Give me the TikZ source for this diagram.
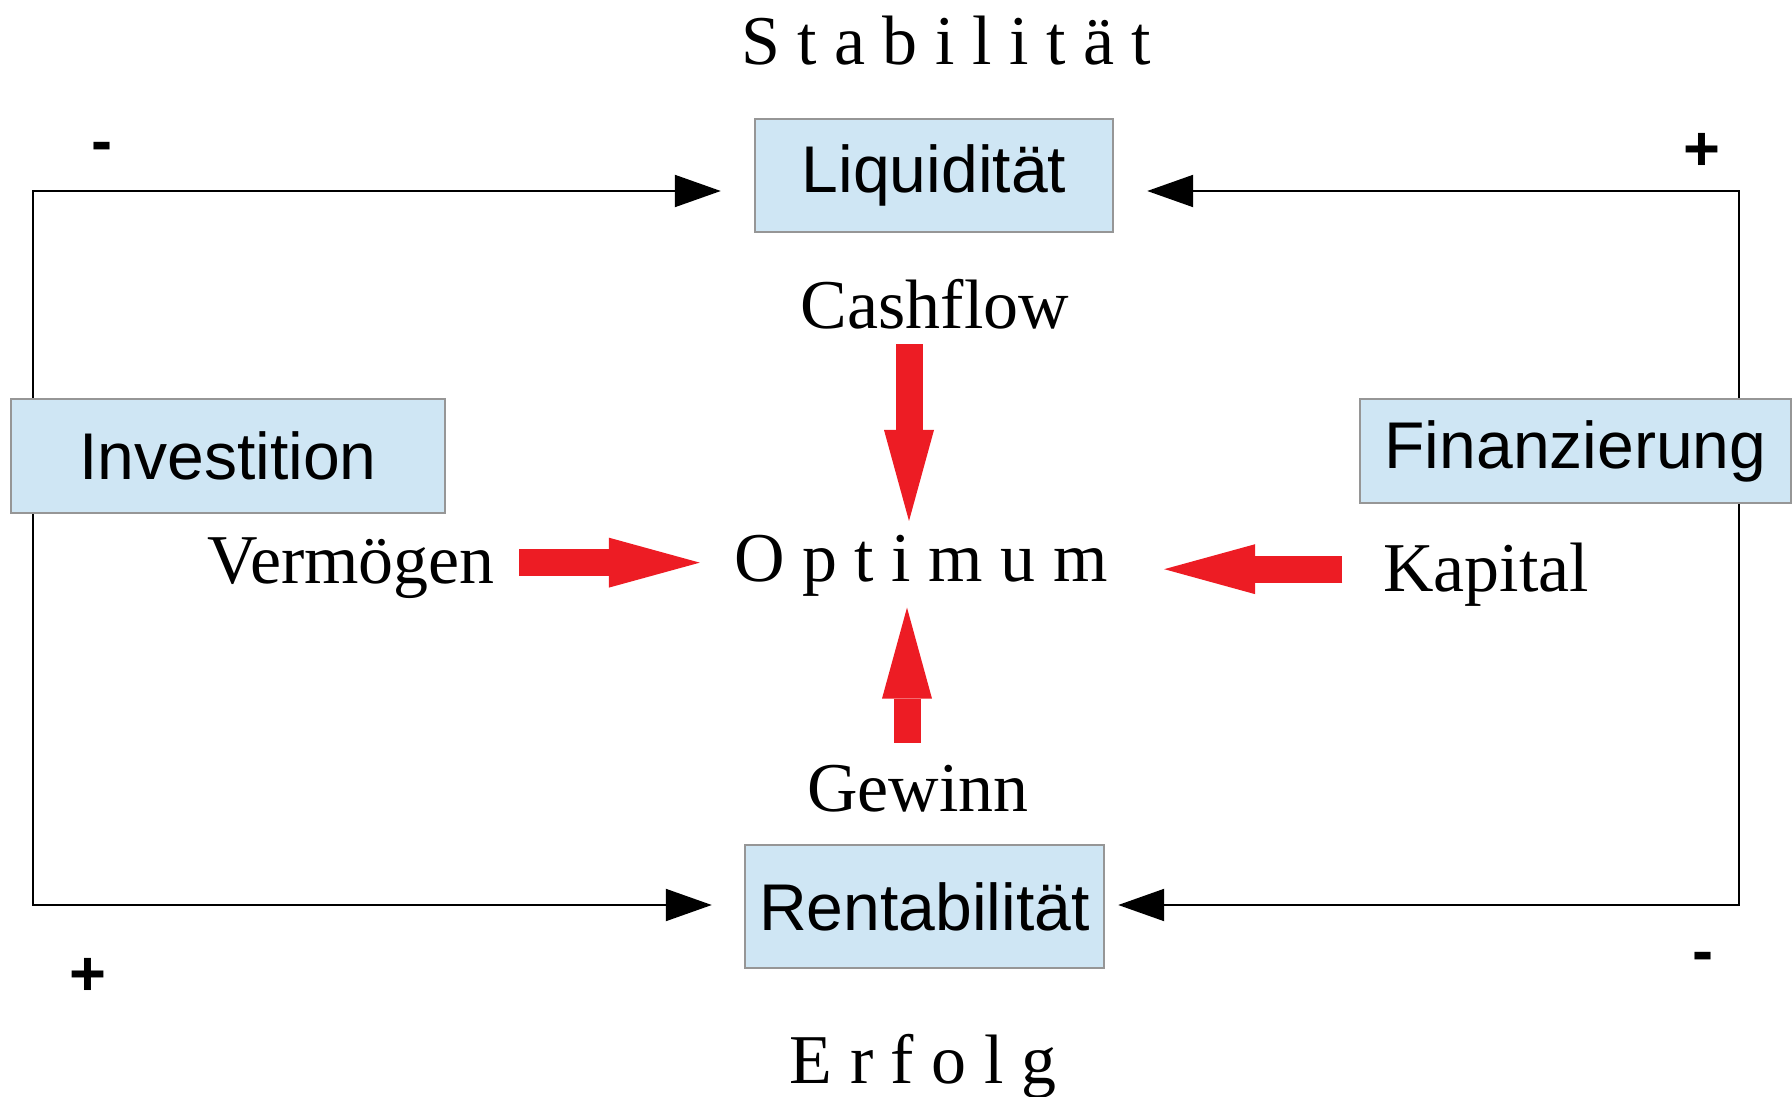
\documentclass[tikz,border=0pt]{standalone}
\usepackage{fontspec}
\setmainfont{Liberation Serif}
\setsansfont{Liberation Sans}
\usepackage{xcolor}
\usepackage{tikz}
\usetikzlibrary{arrows.meta, positioning}
\definecolor{boxfill}{RGB}{207,230,244}
\definecolor{boxline}{RGB}{150,150,150}
\definecolor{pushred}{RGB}{237,28,36}
\tikzset{
    goal/.style={rectangle, draw=boxline, line width=0.7pt, fill=boxfill, text centered, inner sep=0pt, font=\sffamily\fontsize{18.8}{22}\selectfont},
    word/.style={inner sep=0pt, font=\rmfamily\fontsize{19.9}{24}\selectfont},
    sign/.style={inner sep=0pt, font=\sffamily\bfseries\fontsize{18}{20}\selectfont},
    link/.style={-{Triangle[length=0.46cm, width=0.32cm]}, line width=0.6pt},
    push/.style={-{Triangle[length=0.91cm, width=0.50cm, line width=0pt]}, line width=0.27cm, color=pushred}
}

\begin{document}
\begin{tikzpicture}[
    node distance=1cm,
    every node/.style={align=center}
]
    \useasboundingbox (0,0) rectangle (17.92,10.96);

    % Goals on the four sides
    \node[goal, minimum width=3.58cm, minimum height=1.13cm] (liq) at (9.34,9.205) {Liquidität};
    \node[goal, minimum width=4.34cm, minimum height=1.14cm] (inv) at (2.28,6.40) {Investition};
    \node[goal, minimum width=4.31cm, minimum height=1.04cm] (fin) at (15.755,6.45) {Finanzierung};
    \node[goal, minimum width=3.59cm, minimum height=1.23cm] (ren) at (9.245,1.895) {Rentabilität};

    % Corners of the outer loop
    \coordinate (nw) at (0.33,9.05);
    \coordinate (sw) at (0.33,1.91);
    \coordinate (ne) at (17.39,9.05);
    \coordinate (se) at (17.39,1.91);

    \draw[link, shorten >=0.33cm] (inv.north -| nw) -- (nw) -- (liq.west |- nw);
    \draw[link, shorten >=0.32cm] (inv.south -| sw) -- (sw) -- (ren.west |- sw);
    \draw[link, shorten >=0.33cm] (fin.north -| ne) -- (ne) -- (liq.east |- ne);
    \draw[link, shorten >=0.13cm] (fin.south -| se) -- (se) -- (ren.east |- se);

    % Signs at the corners
    \node[sign] (minustl) at (1.02,9.44) {-};
    \node[sign] (plustr) at (17.02,9.44) {+};
    \node[sign] (plusbl) at (0.88,1.19) {+};
    \node[sign] (minusbr) at (17.03,1.34) {-};

    % Words round the optimum
    \node[word, anchor=base] (stab) at (9.46,10.31) {S t a b i l i t ä t};
    \node[word, anchor=base] (cash) at (9.35,7.67) {Cashflow};
    \node[word, anchor=base] (opt) at (9.21,5.15) {O p t i m u m};
    \node[word, anchor=base] (verm) at (3.51,5.13) {Vermögen};
    \node[word, anchor=base] (kap) at (14.86,5.05) {Kapital};
    \node[word, anchor=base] (gew) at (9.18,2.85) {Gewinn};
    \node[word, anchor=base] (erf) at (9.23,0.13) {E r f o l g};

    % Red arrows into the optimum
    \draw[push, shorten <=0.24cm, shorten >=0.34cm] ([yshift=0.05cm]verm.east) -- ([yshift=0.05cm]verm.east -| opt.west);
    \draw[push, shorten <=0.40cm, shorten >=0.56cm] ([yshift=0.05cm]kap.west) -- ([yshift=0.05cm]kap.west -| opt.east);
    \draw[push, shorten <=0.14cm, shorten >=0.13cm] ([xshift=-0.26cm]cash.south) -- ([xshift=-0.26cm]cash.south |- opt.north);
    \draw[push, shorten <=0.21cm, shorten >=0.11cm] ([xshift=-0.11cm]gew.north) -- ([xshift=-0.11cm]gew.north |- opt.south);

\end{tikzpicture}
\end{document}
